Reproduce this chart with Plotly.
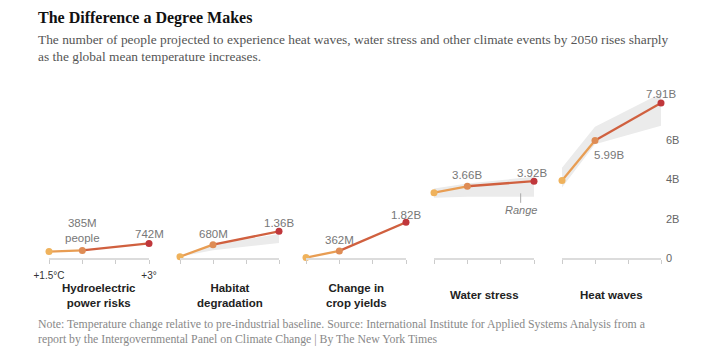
import plotly.graph_objects as go

# ---------------- data ----------------
temps = [1.5, 2, 3]
tick_vals = [1.5, 2, 2.5, 3]
tick_text_first = ["+1.5°C", "", "", "+3°"]
panel_titles = ["Hydroelectric<br>power risks", "Habitat<br>degradation",
                "Change in<br>crop yields", "Water stress", "Heat waves"]

hydro = [0.33, 0.385, 0.742]
habitat = [0.07, 0.68, 1.36]
crops = [0.02, 0.362, 1.82]
water = [3.33, 3.66, 3.92]
heat = [3.95, 5.99, 7.91]

habitat_lo = [0.07, 0.40, 0.77]
habitat_hi = [0.07, 0.68, 1.22]
water_lo = [3.08, 3.13, 3.13]
water_hi = [3.54, 3.80, 4.15]
heat_lo = [3.60, 5.80, 6.75]
heat_hi = [4.60, 6.70, 8.40]

series = [hydro, habitat, crops, water, heat]
ranges_lo = [None, habitat_lo, None, water_lo, heat_lo]
ranges_hi = [None, habitat_hi, None, water_hi, heat_hi]

# value labels: (point index, text)
value_labels = [
    [(1, "385M<br>people"), (2, "742M")],
    [(1, "680M"), (2, "1.36B")],
    [(1, "362M"), (2, "1.82B")],
    [(1, "3.66B"), (2, "3.92B")],
    [(1, "5.99B"), (2, "7.91B")],
]
# pixel offsets for value labels (style)
label_shift = [
    [(0, 20), (0, 9)],
    [(0, 11), (0, 8)],
    [(0, 11), (0, 7)],
    [(0, 11), (-2, 8.5)],
    [(14, -14), (0, 9)],
]

y_tick_vals = [0, 2, 4, 6]
y_tick_text = ["0", "2B", "4B", "6B"]

# ---------------- layout helpers ----------------
W, H = 721, 349
YMAX = 8.6
PX_PER_B = 19.6
BASE = 258.0


def px_x(p):
    return p / W


def px_y(p):
    return 1 - p / H


panel_px = [(49, 149), (180, 279), (306, 406), (434, 534), (562, 661)]
ydom = [px_y(BASE), px_y(BASE - YMAX * PX_PER_B)]

c_low = "#efb25c"
c_mid = "#de8c55"
c_high = "#c0373b"
seg1_color = "#e89d53"
seg2_color = "#d0603f"
band_color = "#ebebeb"
label_font = dict(family="Liberation Sans, Arial, sans-serif", size=11.5, color="#777")

fig = go.Figure()
layout = {}

for i in range(5):
    xa = "x" if i == 0 else f"x{i+1}"
    ya = "y" if i == 0 else f"y{i+1}"
    vals = series[i]
    if ranges_lo[i] is not None:
        fig.add_trace(go.Scatter(x=temps, y=ranges_lo[i], xaxis=xa, yaxis=ya, mode="lines",
                                 line=dict(width=0, color=band_color), hoverinfo="skip",
                                 showlegend=False))
        fig.add_trace(go.Scatter(x=temps, y=ranges_hi[i], xaxis=xa, yaxis=ya, mode="lines",
                                 line=dict(width=0, color=band_color), fill="tonexty",
                                 fillcolor=band_color, hoverinfo="skip", showlegend=False))
    fig.add_trace(go.Scatter(x=temps[0:2], y=vals[0:2], xaxis=xa, yaxis=ya, mode="lines",
                             line=dict(width=2.3, color=seg1_color), cliponaxis=False,
                             showlegend=False, hoverinfo="skip"))
    fig.add_trace(go.Scatter(x=temps[1:3], y=vals[1:3], xaxis=xa, yaxis=ya, mode="lines",
                             line=dict(width=2.3, color=seg2_color), cliponaxis=False,
                             showlegend=False, hoverinfo="skip"))
    fig.add_trace(go.Scatter(x=temps, y=vals, xaxis=xa, yaxis=ya, mode="markers",
                             marker=dict(size=7, color=[c_low, c_mid, c_high]),
                             cliponaxis=False, showlegend=False))

    x0, x1 = panel_px[i]
    xkey = "xaxis" if i == 0 else f"xaxis{i+1}"
    ykey = "yaxis" if i == 0 else f"yaxis{i+1}"
    layout[xkey] = dict(
        domain=[px_x(x0), px_x(x1)], range=[1.5, 3], anchor=ya,
        showline=True, linecolor="#dcdcdc", linewidth=1.5,
        ticks="outside", ticklen=4, tickcolor="#cccccc", tickwidth=1,
        tickvals=tick_vals,
        ticktext=tick_text_first if i == 0 else ["", "", "", ""],
        ticklabelstandoff=3,
        tickfont=dict(family="Liberation Sans, Arial, sans-serif",
                      size=10, color="#333"),
        showgrid=False, zeroline=False, fixedrange=True, automargin=False,
    )
    layout[ykey] = dict(
        domain=ydom, range=[0, YMAX], anchor=xa,
        showgrid=False, zeroline=False, showline=False,
        showticklabels=(i == 4), side="right",
        tickvals=y_tick_vals, ticktext=y_tick_text, ticks="",
        ticklabelstandoff=4,
        tickfont=dict(family="Liberation Sans, Arial, sans-serif", size=11, color="#666"),
        fixedrange=True, automargin=False,
    )

annotations = []
# value labels
for i in range(5):
    xa = "x" if i == 0 else f"x{i+1}"
    ya = "y" if i == 0 else f"y{i+1}"
    for (idx, txt), (dx, dy) in zip(value_labels[i], label_shift[i]):
        annotations.append(dict(x=temps[idx], y=series[i][idx], xref=xa, yref=ya,
                                text=txt, showarrow=False, xanchor="center",
                                yanchor="middle", xshift=dx, yshift=dy,
                                font=label_font))
    # panel title
    x0, x1 = panel_px[i]
    annotations.append(dict(x=px_x((x0 + x1) / 2), y=px_y(295), xref="paper", yref="paper",
                            text="<b>" + panel_titles[i] + "</b>", showarrow=False,
                            xanchor="center", yanchor="middle", align="center",
                            font=dict(family="Liberation Sans, Arial, sans-serif",
                                      size=11.5, color="#222")))

# Range callout
annotations.append(dict(x=2.8, y=3.3, xref="x4", yref="y4", text="<i>Range</i>",
                        showarrow=True, arrowhead=0, arrowwidth=1, arrowcolor="#aaaaaa",
                        ax=0, ay=17, standoff=0,
                        font=dict(family="Liberation Sans, Arial, sans-serif", size=11, color="#777")))

# title, subtitle, note
annotations.append(dict(x=px_x(36), y=px_y(18), xref="paper", yref="paper",
                        text="<b>The Difference a Degree Makes</b>", showarrow=False,
                        xanchor="left", yanchor="middle",
                        font=dict(family="Liberation Serif, DejaVu Serif, serif", size=16, color="#111")))
annotations.append(dict(x=px_x(36), y=px_y(48), xref="paper", yref="paper",
                        text="The number of people projected to experience heat waves, water stress and other climate events by 2050 rises sharply<br>as the global mean temperature increases.",
                        showarrow=False, xanchor="left", yanchor="middle", align="left",
                        font=dict(family="Liberation Serif, DejaVu Serif, serif", size=13.4, color="#555")))
annotations.append(dict(x=px_x(36), y=px_y(331), xref="paper", yref="paper",
                        text="Note: Temperature change relative to pre-industrial baseline. Source: International Institute for Applied Systems Analysis from a<br>report by the Intergovernmental Panel on Climate Change | By The New York Times",
                        showarrow=False, xanchor="left", yanchor="middle", align="left",
                        font=dict(family="Liberation Serif, DejaVu Serif, serif", size=11.8, color="#888")))

fig.update_layout(
    width=W, height=H,
    margin=dict(l=0, r=0, t=0, b=0, autoexpand=False),
    paper_bgcolor="white", plot_bgcolor="white",
    showlegend=False,
    annotations=annotations,
    **layout,
)

fig.write_html("out.html", config={"displayModeBar": False})
